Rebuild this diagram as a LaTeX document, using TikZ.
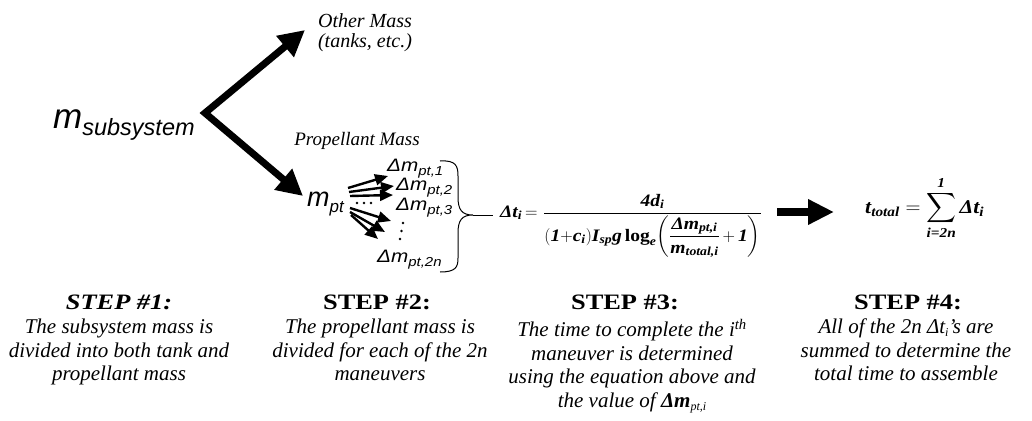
\documentclass[tikz,border=0pt]{standalone}
\usepackage{fontspec}
\usepackage{amsmath}
\usepackage{graphicx}
\setmainfont{Liberation Serif}
\setsansfont{Liberation Sans}
\usetikzlibrary{arrows.meta}
\newcommand{\fs}[1]{\fontsize{#1}{#1}\selectfont}
\newcommand{\tb}[1]{\text{\scalebox{1.12}[1]{\bfseries\itshape #1}}}
\newcommand{\tu}[1]{\text{\scalebox{1.12}[1]{\bfseries #1}}}
\newcommand{\dm}[1]{\scalebox{1.15}[1]{\sffamily\itshape\fs{18}Δm\fs{13}\raisebox{-4pt}{#1}}}
\newcommand{\hd}[1]{\scalebox{1.2}[1]{\fs{22}\bfseries #1}}
\begin{document}
\begin{tikzpicture}[x=1pt,y=-1pt,
  txt/.style={inner sep=0pt},
  bigconn/.style={line width=7pt, line join=miter, >={Triangle[length=26pt,width=26pt]}},
  fatarrow/.style={line width=8pt, -{Triangle[length=26pt,width=24pt]}},
  smallarrow/.style={line width=2.4pt, -{Triangle[length=13pt,width=11pt]}},
  stephead/.style={txt, anchor=base},
  stepdesc/.style={txt, anchor=north, align=center, font=\fontsize{21}{23.5}\selectfont\itshape},
  dotmark/.style={fill=black}
]
\useasboundingbox (0,0) rectangle (1032,420);

% Step 1
\node[txt, anchor=base west] (msub) at (53,128) {\sffamily\itshape\fs{35}m\fs{23.5}\raisebox{-7pt}{subsystem}};
\node[txt, align=center, anchor=north, font=\fontsize{20}{20}\selectfont\itshape] (other) at (365,13) {Other Mass\\(tanks, etc.)};
\node[txt, anchor=base, font=\fs{19}\itshape] (prop) at (357,145) {Propellant Mass};
\node[txt, anchor=base west] (mpt) at (307,206) {\sffamily\itshape\fs{27}m\fs{17}\raisebox{-6pt}{pt}};

\coordinate (vtx) at (205,113);
\coordinate (tipO) at (305,30);
\coordinate (tipP) at (303,196);
\draw[bigconn,<->] (tipO) -- (vtx) -- (tipP);

% Step 2
\node[txt, anchor=base west] (d1) at (387,171) {\dm{pt,1}};
\node[txt, anchor=base west] (d2) at (396,190) {\dm{pt,2}};
\node[txt, anchor=base west] (d3) at (396,210) {\dm{pt,3}};
\node[txt, anchor=base west] (d2n) at (377,262) {\dm{pt,2n}};

\coordinate (s1) at (348,188);
\coordinate (s2) at (349,192);
\coordinate (s3) at (350,196);
\coordinate (e1) at (388,176);
\coordinate (e2) at (394,186);
\coordinate (e3) at (393,195);
\draw[smallarrow] (s1) -- (e1);
\draw[smallarrow] (s2) -- (e2);
\draw[smallarrow] (s3) -- (e3);
\coordinate (s4) at (350,208);
\coordinate (s5) at (350,212);
\coordinate (s6) at (351,215);
\coordinate (e4) at (391,221);
\coordinate (e5) at (385,232);
\coordinate (e6) at (378,239);
\draw[smallarrow] (s4) -- (e4);
\draw[smallarrow] (s5) -- (e5);
\draw[smallarrow] (s6) -- (e6);
\foreach \x in {357,364,371} \fill[dotmark] (\x,203) circle (1.4);
\fill[dotmark] (403,223) circle (1.4);
\fill[dotmark] (401.5,231) circle (1.4);
\fill[dotmark] (400,239) circle (1.4);

% brace
\draw[line width=1pt] (440,161) .. controls (456,160) and (458,166) .. (458,176) -- (458,197)
  .. controls (458,210) and (462,215) .. (473,215)
  .. controls (462,215) and (458,220) .. (458,233) -- (458,258)
  .. controls (458,267) and (456,272) .. (440,272);
\draw[line width=1pt] (473,215) -- (493,215);

% Step 3 equation
\node[txt, anchor=base west] (lhs) at (500,217) {\fs{17.5}$\tb{Δt}_{\tb{i}}\,{=}$};
\node[txt, anchor=base west] (frac) at (543,218) {\fs{17.5}$\dfrac{\tb{4d}_{\tb{i}}}{(\tb{1}{+}\tb{c}_{\tb{i}})\tb{I}_{\tb{sp}}\tb{g}\,\tu{log}_{\tb{e}}\!\left(\dfrac{\tb{Δm}_{\tb{pt,i}}}{\tb{m}_{\tb{total,i}}}\,{+}\,\tb{1}\right)}$};

% arrow to step 4
\coordinate (a1) at (777,212);
\coordinate (a2) at (834,212);
\draw[fatarrow] (a1) -- (a2);

\node[txt, anchor=base west] (sum) at (865,213) {\fs{19.5}$\displaystyle\tb{t}_{\tb{total}} = \sum_{\tb{i=2n}}^{\tb{1}}\tb{Δt}_{\tb{i}}$};

% Step labels
\node[stephead] (h1) at (119,309) {\hd{\itshape STEP \#1:}};
\node[stephead] (h2) at (377,309) {\hd{STEP \#2:}};
\node[stephead] (h3) at (625,309) {\hd{STEP \#3:}};
\node[stephead] (h4) at (908,309) {\hd{STEP \#4:}};

\node[stepdesc] (t1) at (119,319) {The subsystem mass is\\divided into both tank and\\propellant mass};
\node[stepdesc] (t2) at (380,319) {The propellant mass is\\divided for each of the 2n\\maneuvers};
\node[stepdesc] (t3) at (632,319) {The time to complete the i\textsuperscript{th}\\maneuver is determined\\using the equation above and\\the value of \textbf{Δm}\raisebox{-3pt}{\fs{12}pt,i}};
\node[stepdesc] (t4) at (906,319) {All of the 2n Δt\raisebox{-3pt}{\fs{12}i}’s are\\summed to determine the\\total time to assemble};
\end{tikzpicture}
\end{document}
